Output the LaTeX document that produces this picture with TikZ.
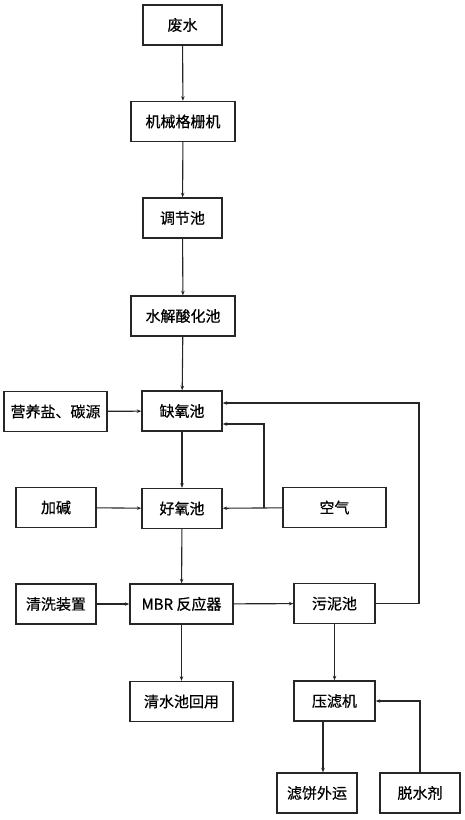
\documentclass[tikz,border=0pt]{standalone}
\usepackage{fontspec}
\setmainfont{Noto Sans CJK SC}
\usetikzlibrary{arrows.meta}
\begin{document}
\begin{tikzpicture}[x=1pt,y=-1pt,
  box/.style={draw=black!85,line width=1.4pt,minimum height=40pt,inner sep=0pt,font=\fontsize{15}{17}\selectfont\addfontfeature{FakeBold=0.6}},
  arr/.style={draw=black!85,line width=1.1pt,-{Stealth[length=4.5pt,width=3.5pt]}}]
\useasboundingbox (0,0) rectangle (465,820);
% main line
\node[box,minimum width=79pt] (waste) at (182.5,25) {废水};
\node[box,minimum width=104pt] (screen) at (183,121.5) {机械格栅机};
\node[box,minimum width=79pt] (adjust) at (182.5,218) {调节池};
\node[box,minimum width=104pt] (hydro) at (183,316) {水解酸化池};
\node[box,minimum width=80pt] (anox) at (182,411) {缺氧池};
\node[box,minimum width=80pt] (oxic) at (182,508.5) {好氧池};
\node[box,minimum width=103pt] (mbr) at (181.5,604) {MBR 反应器};
\node[box,minimum width=103pt] (reuse) at (181.5,701.5) {清水池回用};
% side inputs
\node[box,minimum width=103pt] (nutri) at (55.5,411.5) {营养盐、碳源};
\node[box,minimum width=80pt] (alkali) at (56,507.5) {加碱};
\node[box,minimum width=103pt] (air) at (334.5,507.5) {空气};
\node[box,minimum width=80pt] (clean) at (56,604) {清洗装置};
% sludge line
\node[box,minimum width=81pt] (sludge) at (334.5,603.5) {污泥池};
\node[box,minimum width=81pt] (press) at (334.5,701) {压滤机};
\node[box,minimum width=80pt] (cake) at (317,793) {滤饼外运};
\node[box,minimum width=80pt] (dewater) at (420,793) {脱水剂};
\coordinate (loop) at (419,403);
\coordinate (split) at (264,424);
% connectors
\draw[arr] (waste) -- (screen);
\draw[arr] (screen) -- (adjust);
\draw[arr] (adjust) -- (hydro);
\draw[arr] (hydro) -- (anox);
\draw[arr] (anox) -- (oxic);
\draw[arr] (oxic) -- (mbr);
\draw[arr] (mbr) -- (reuse);
\draw[arr] (nutri) -- (anox);
\draw[arr] (alkali) -- (oxic);
\draw[arr] (clean) -- (mbr);
\draw[arr] (mbr) -- (sludge);
\draw[arr] (air) -- (oxic);
\draw[arr] (split |- air.west) -- (split) -- (anox.east |- split);
\draw[arr] (sludge.east) -| (loop) -- (anox.east |- loop);
\draw[arr] (sludge) -- (press);
\draw[arr] ([xshift=-11.5pt]press.south) -- ([xshift=-11.5pt]press.south |- cake.north);
\draw[arr] (dewater.north) |- (press.east);
\end{tikzpicture}
\end{document}
